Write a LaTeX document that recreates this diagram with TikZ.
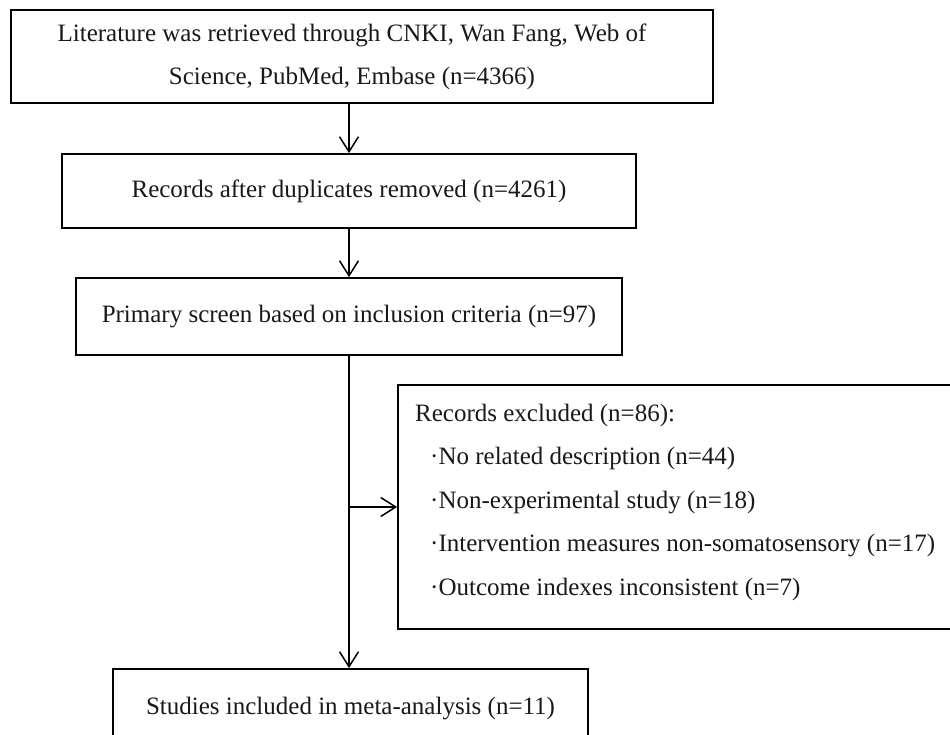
\documentclass[tikz,border=0pt]{standalone}
\usepackage{fontspec}
\setmainfont{Liberation Serif}
\usetikzlibrary{arrows.meta}
\begin{document}
\begin{tikzpicture}[x=1pt,y=-1pt,
  boxnode/.style={draw=black, line width=1.8pt, inner sep=0pt, align=center,
    font=\fontsize{25}{43}\selectfont, text=black!90},
  textnode/.style={inner sep=0pt, align=center, font=\fontsize{25}{43}\selectfont, text=black!90},
  linetext/.style={anchor=base west, inner sep=0pt, font=\fontsize{25}{30}\selectfont, text=black!90},
  arr/.style={line width=1.5pt, -{Straight Barb[length=15pt,width=19pt,line width=1.5pt]}}]
\useasboundingbox (0,0) rectangle (950,734);
\clip (0,0) rectangle (950,734);
\fill[white] (0,0) rectangle (950,734);

\node[boxnode, minimum width=702pt, minimum height=93pt] (b1) at (362,56.5) {};
\node[textnode] (t1) at (352,57)
  {Literature was retrieved through CNKI, Wan Fang, Web of\\Science, PubMed, Embase (n=4366)};
\node[boxnode, minimum width=574pt, minimum height=74pt] (b2) at (349,191)
  {Records after duplicates removed (n=4261)};
\node[boxnode, minimum width=546pt, minimum height=77pt] (b3) at (349,316.5)
  {Primary screen based on inclusion criteria (n=97)};
\node[boxnode, minimum width=562pt, minimum height=244pt] (b4) at (679,507) {};
\node[boxnode, minimum width=475pt, minimum height=80pt] (b5) at (350.5,709)
  {Studies included in meta-analysis (n=11)};

\node[linetext] (e0) at (415,421) {Records excluded (n=86):};
\node[linetext] (e1) at (430,464.5) {·No related description (n=44)};
\node[linetext] (e2) at (430,508) {·Non-experimental study (n=18)};
\node[linetext] (e3) at (430,551.5) {·Intervention measures non-somatosensory (n=17)};
\node[linetext] (e4) at (430,595) {·Outcome indexes inconsistent (n=7)};

\draw[arr] (b2.north |- b1.south) -- (b2.north);
\draw[arr] (b2.south) -- (b3.north);
\draw[arr] (b3.south) -- (b3.south |- b5.north);
\draw[arr] (b3.south |- b4.west) -- (b4.west);
\end{tikzpicture}
\end{document}
